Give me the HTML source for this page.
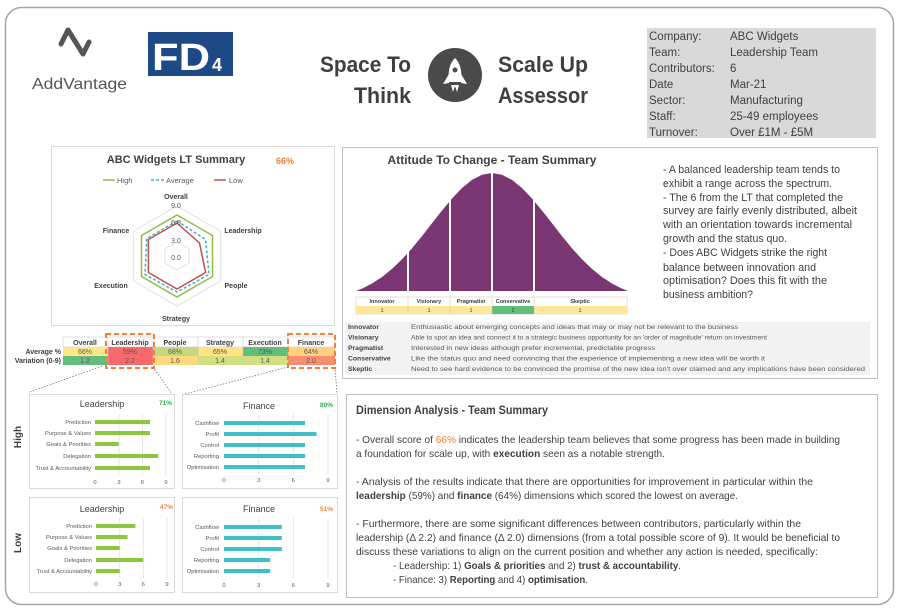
<!DOCTYPE html>
<html><head><meta charset="utf-8"><style>
html,body{margin:0;padding:0;background:#fff;}
svg{display:block;font-family:"Liberation Sans",sans-serif;}
</style></head><body>
<svg width="900" height="608" viewBox="0 0 900 608" xmlns="http://www.w3.org/2000/svg">
<rect x="5.5" y="7.5" width="888" height="597" rx="16" fill="#fff" stroke="#a6a6a6" stroke-width="1.5"/>

<!-- AddVantage logo -->
<path d="M61 44 L68 30 L83 54 L89 42" fill="none" stroke="#555" stroke-width="5" stroke-linejoin="round" stroke-linecap="round"/>
<text x="32" y="89" font-size="16" fill="#555" textLength="95" lengthAdjust="spacingAndGlyphs">AddVantage</text>
<!-- FD4 -->
<rect x="148" y="32" width="85" height="44" fill="#1d4a86"/>
<text x="152" y="70" font-size="38" font-weight="bold" fill="#fff" textLength="58" lengthAdjust="spacingAndGlyphs">FD</text>
<text x="212" y="71" font-size="18" font-weight="bold" fill="#fff">4</text>

<!-- Title -->
<g font-size="22" font-weight="bold" fill="#3f3f3f">
<text x="411" y="72" text-anchor="end" textLength="91" lengthAdjust="spacingAndGlyphs">Space To</text>
<text x="411" y="103" text-anchor="end" textLength="57" lengthAdjust="spacingAndGlyphs">Think</text>
<text x="498" y="72" textLength="90" lengthAdjust="spacingAndGlyphs">Scale Up</text>
<text x="498" y="103" textLength="90" lengthAdjust="spacingAndGlyphs">Assessor</text>
</g>
<circle cx="455" cy="75" r="27" fill="#4a4a4a"/>
<path d="M455 58 C461 64 462 72 461 82 L449 82 C448 72 449 64 455 58 Z" fill="#fff"/>
<circle cx="455" cy="70" r="2.5" fill="#4a4a4a"/>
<path d="M449 74 L443 84 L449 83 Z M461 74 L467 84 L461 83 Z" fill="#fff"/>
<path d="M451 85 L453 92 L455 86 L457 92 L459 85 Z" fill="#fff"/>

<!-- Info box -->
<rect x="647" y="28" width="229" height="110" fill="#d9d9d9"/>
<g font-size="11.5" fill="#404040">
<text x="649" y="40">Company:</text><text x="730" y="40">ABC Widgets</text>
<text x="649" y="56">Team:</text><text x="730" y="56">Leadership Team</text>
<text x="649" y="72">Contributors:</text><text x="730" y="72">6</text>
<text x="649" y="88">Date</text><text x="730" y="88">Mar-21</text>
<text x="649" y="104">Sector:</text><text x="730" y="104">Manufacturing</text>
<text x="649" y="120">Staff:</text><text x="730" y="120">25-49 employees</text>
<text x="649" y="136">Turnover:</text><text x="730" y="136">Over £1M - £5M</text>
</g>

<!-- Radar panel -->
<rect x="51.5" y="146.5" width="283" height="179" fill="#fff" stroke="#d9d9d9"/>
<text x="176" y="163" font-size="11" font-weight="bold" fill="#404040" text-anchor="middle">ABC Widgets LT Summary</text>
<text x="276" y="164" font-size="9" font-weight="bold" fill="#f4813b">66%</text>
<g font-size="7.5" fill="#595959">
<line x1="103" y1="180" x2="115" y2="180" stroke="#8fbc45" stroke-width="1.5"/><text x="117" y="183">High</text>
<line x1="151" y1="180" x2="164" y2="180" stroke="#4bacc6" stroke-width="1.5" stroke-dasharray="3,2"/><text x="166" y="183">Average</text>
<line x1="214" y1="180" x2="226" y2="180" stroke="#c0504d" stroke-width="1.5"/><text x="229" y="183">Low</text>
</g>
<g transform="translate(177,256)">
<polygon points="0,-50 43.3,-25 43.3,25 0,50 -43.3,25 -43.3,-25" fill="none" stroke="#e0e0e0"/>
<polygon points="0,-14 12.1,-7 12.1,7 0,14 -12.1,7 -12.1,-7" fill="none" stroke="#e0e0e0"/>
<polygon points="0,-41 35.5,-20.5 35.5,20.5 0,41 -35.5,20.5 -35.5,-20.5" fill="none" stroke="#8fbc45" stroke-width="1.5"/>
<polygon points="0,-35 28.6,-16.5 32,18.5 0,36 -32,18.5 -30.3,-17.5" fill="none" stroke="#4bacc6" stroke-width="1.5" stroke-dasharray="3,2"/>
<polygon points="0,-33 22.5,-13 28.6,16.5 0,33 -28.6,16.5 -28.6,-16.5" fill="none" stroke="#c0504d" stroke-width="1.5"/>
</g>
<g font-size="7" fill="#595959" text-anchor="middle">
<text x="176" y="208">9.0</text><text x="176" y="225">6.0</text><text x="176" y="243">3.0</text><text x="176" y="260">0.0</text>
</g>
<g font-size="7" font-weight="bold" fill="#404040" text-anchor="middle">
<text x="176" y="199">Overall</text><text x="243" y="233">Leadership</text><text x="236" y="288">People</text>
<text x="176" y="321">Strategy</text><text x="111" y="288">Execution</text><text x="116" y="233">Finance</text>
</g>

<!-- Score table -->
<g font-size="7" text-anchor="middle">
<rect x="63" y="337" width="272" height="10" fill="#fff" stroke="#bfbfbf" stroke-width="0.5"/>
<rect x="63" y="347" width="45" height="9" fill="#ffe588"/><rect x="63" y="356" width="45" height="9" fill="#63be7b"/>
<rect x="108" y="347" width="45" height="9" fill="#f8696b"/><rect x="108" y="356" width="45" height="9" fill="#f8696b"/>
<rect x="153" y="347" width="45" height="9" fill="#c5db7b"/><rect x="153" y="356" width="45" height="9" fill="#ffd880"/>
<rect x="198" y="347" width="45" height="9" fill="#ffe384"/><rect x="198" y="356" width="45" height="9" fill="#d3e082"/>
<rect x="243" y="347" width="45" height="9" fill="#63be7b"/><rect x="243" y="356" width="45" height="9" fill="#d3e082"/>
<rect x="288" y="347" width="47" height="9" fill="#fdd27f"/><rect x="288" y="356" width="47" height="9" fill="#fa8e72"/>
<g stroke="#bfbfbf" stroke-width="0.5"><line x1="108" y1="337" x2="108" y2="365"/><line x1="153" y1="337" x2="153" y2="365"/><line x1="198" y1="337" x2="198" y2="365"/><line x1="243" y1="337" x2="243" y2="365"/><line x1="288" y1="337" x2="288" y2="365"/></g>
<g font-weight="bold" fill="#404040">
<text x="85" y="345">Overall</text><text x="130" y="345">Leadership</text><text x="175" y="345">People</text><text x="220" y="345">Strategy</text><text x="265" y="345">Execution</text><text x="311" y="345">Finance</text>
</g>
<g fill="#595959">
<text x="85" y="354">66%</text><text x="130" y="354">59%</text><text x="175" y="354">68%</text><text x="220" y="354">65%</text><text x="265" y="354">73%</text><text x="311" y="354">64%</text>
<text x="85" y="363">1.2</text><text x="130" y="363">2.2</text><text x="175" y="363">1.6</text><text x="220" y="363">1.4</text><text x="265" y="363">1.4</text><text x="311" y="363">2.0</text>
</g>
<g font-weight="bold" fill="#404040" text-anchor="end"><text x="61" y="354">Average %</text><text x="61" y="363">Variation (0-9)</text></g>
</g>
<rect x="106" y="334" width="48" height="34" fill="none" stroke="#f4813b" stroke-width="2" stroke-dasharray="5,3"/>
<rect x="288" y="334" width="47" height="34" fill="none" stroke="#f4813b" stroke-width="2" stroke-dasharray="5,3"/>
<g stroke="#777" stroke-width="0.8" stroke-dasharray="1.5,1.5">
<line x1="102" y1="366" x2="30" y2="392"/><line x1="153" y1="367" x2="172" y2="394"/>
<line x1="288" y1="367" x2="185" y2="394"/><line x1="335" y1="367" x2="337" y2="394"/>
</g>
<text transform="translate(21,437) rotate(-90)" font-size="10" font-weight="bold" fill="#404040" text-anchor="middle">High</text>
<text transform="translate(21,543) rotate(-90)" font-size="10" font-weight="bold" fill="#404040" text-anchor="middle">Low</text>

<!-- Bar charts -->
<g font-size="5.8" fill="#595959">
<rect x="29.5" y="394.5" width="145" height="94" fill="#fff" stroke="#d9d9d9"/>
<text x="102" y="407" font-size="9" text-anchor="middle" fill="#404040">Leadership</text>
<text x="159" y="405" font-size="6.5" font-weight="bold" fill="#33b34a">71%</text>
<g stroke="#e6e6e6"><line x1="119" y1="414" x2="119" y2="475"/><line x1="142.5" y1="414" x2="142.5" y2="475"/><line x1="166" y1="414" x2="166" y2="475"/></g>
<g fill="#8dc63f"><rect x="95" y="420" width="55" height="4"/><rect x="95" y="431" width="55" height="4"/><rect x="95" y="442" width="23.7" height="4"/><rect x="95" y="454" width="63" height="4"/><rect x="95" y="466" width="55" height="4"/></g>
<g text-anchor="end"><text x="91" y="424">Prediction</text><text x="91" y="435">Purpose &amp; Values</text><text x="91" y="446">Goals &amp; Priorities</text><text x="91" y="458">Delegation</text><text x="91" y="470">Trust &amp; Accountability</text></g>
<g text-anchor="middle"><text x="95" y="484">0</text><text x="119" y="484">3</text><text x="142.5" y="484">6</text><text x="166" y="484">9</text></g>

<rect x="182.5" y="394.5" width="155" height="94" fill="#fff" stroke="#d9d9d9"/>
<text x="259" y="409" font-size="9" text-anchor="middle" fill="#404040">Finance</text>
<text x="320" y="407" font-size="6.5" font-weight="bold" fill="#33b34a">80%</text>
<g stroke="#e6e6e6"><line x1="258.7" y1="414" x2="258.7" y2="474"/><line x1="293.3" y1="414" x2="293.3" y2="474"/><line x1="328" y1="414" x2="328" y2="474"/></g>
<g fill="#3fbfca"><rect x="224" y="421" width="81" height="4"/><rect x="224" y="432" width="92.5" height="4"/><rect x="224" y="443" width="81" height="4"/><rect x="224" y="454" width="81" height="4"/><rect x="224" y="465" width="81" height="4"/></g>
<g text-anchor="end"><text x="219" y="425">Cashflow</text><text x="219" y="436">Profit</text><text x="219" y="447">Control</text><text x="219" y="458">Reporting</text><text x="219" y="469">Optimisation</text></g>
<g text-anchor="middle"><text x="224" y="482">0</text><text x="258.7" y="482">3</text><text x="293.3" y="482">6</text><text x="328" y="482">9</text></g>

<rect x="29.5" y="497.5" width="145" height="95" fill="#fff" stroke="#d9d9d9"/>
<text x="102" y="512" font-size="9" text-anchor="middle" fill="#404040">Leadership</text>
<text x="160" y="509" font-size="6.5" font-weight="bold" fill="#f4813b">47%</text>
<g stroke="#e6e6e6"><line x1="119.7" y1="518" x2="119.7" y2="578"/><line x1="143.3" y1="518" x2="143.3" y2="578"/><line x1="167" y1="518" x2="167" y2="578"/></g>
<g fill="#8dc63f"><rect x="96" y="524" width="39.4" height="4"/><rect x="96" y="535" width="31.5" height="4"/><rect x="96" y="546" width="23.7" height="4"/><rect x="96" y="558" width="47.3" height="4"/><rect x="96" y="569" width="23.7" height="4"/></g>
<g text-anchor="end"><text x="92" y="528">Prediction</text><text x="92" y="539">Purpose &amp; Values</text><text x="92" y="550">Goals &amp; Priorities</text><text x="92" y="562">Delegation</text><text x="92" y="573">Trust &amp; Accountability</text></g>
<g text-anchor="middle"><text x="96" y="586">0</text><text x="119.7" y="586">3</text><text x="143.3" y="586">6</text><text x="167" y="586">9</text></g>

<rect x="182.5" y="497.5" width="155" height="95" fill="#fff" stroke="#d9d9d9"/>
<text x="259" y="512" font-size="9" text-anchor="middle" fill="#404040">Finance</text>
<text x="320" y="511" font-size="6.5" font-weight="bold" fill="#f4813b">51%</text>
<g stroke="#e6e6e6"><line x1="258.7" y1="518" x2="258.7" y2="578"/><line x1="293.3" y1="518" x2="293.3" y2="578"/><line x1="328" y1="518" x2="328" y2="578"/></g>
<g fill="#3fbfca"><rect x="224" y="525" width="57.8" height="4"/><rect x="224" y="536" width="57.8" height="4"/><rect x="224" y="547" width="57.8" height="4"/><rect x="224" y="558" width="46.2" height="4"/><rect x="224" y="569" width="46.2" height="4"/></g>
<g text-anchor="end"><text x="219" y="529">Cashflow</text><text x="219" y="540">Profit</text><text x="219" y="551">Control</text><text x="219" y="562">Reporting</text><text x="219" y="573">Optimisation</text></g>
<g text-anchor="middle"><text x="224" y="587">0</text><text x="258.7" y="587">3</text><text x="293.3" y="587">6</text><text x="328" y="587">9</text></g>
</g>

<!-- Attitude panel -->
<rect x="342.5" y="147.5" width="535" height="231" fill="#fff" stroke="#bfbfbf"/>
<text x="492" y="164" font-size="12" font-weight="bold" fill="#404040" text-anchor="middle">Attitude To Change - Team Summary</text>
<path fill="#7a3673" d="M356 291 L362 288.6 L372 283.5 L382 277 L392 268.9 L402 259.3 L412 248.3 L422 236.1 L432 223.3 L442 210.5 L452 198.5 L462 188 L472 179.9 L482 174.7 L492 173 L502 174.7 L512 179.9 L522 188 L532 198.5 L542 210.5 L552 223.3 L562 236.1 L572 248.3 L582 259.3 L592 268.9 L602 277 L612 283.5 L622 288.6 L628 291 Z"/>
<g stroke="#fff" stroke-width="2"><line x1="408" y1="170" x2="408" y2="292"/><line x1="450" y1="170" x2="450" y2="292"/><line x1="492" y1="170" x2="492" y2="292"/><line x1="534" y1="170" x2="534" y2="292"/></g>
<g font-size="5.5" text-anchor="middle">
<rect x="356" y="297" width="271" height="17" fill="#fff" stroke="#bfbfbf" stroke-width="0.5"/>
<rect x="356" y="306" width="271" height="8" fill="#ffe699"/>
<rect x="492" y="306" width="42" height="8" fill="#63be7b"/>
<g stroke="#bfbfbf" stroke-width="0.5"><line x1="408" y1="297" x2="408" y2="314"/><line x1="450" y1="297" x2="450" y2="314"/><line x1="492" y1="297" x2="492" y2="314"/><line x1="534" y1="297" x2="534" y2="314"/></g>
<g font-weight="bold" fill="#404040"><text x="382" y="303">Innovator</text><text x="429" y="303">Visionary</text><text x="471" y="303">Pragmatist</text><text x="513" y="303">Conservative</text><text x="580" y="303">Skeptic</text></g>
<g fill="#404040"><text x="382" y="312">1</text><text x="429" y="312">1</text><text x="471" y="312">1</text><text x="513" y="312">2</text><text x="580" y="312">1</text></g>
</g>
<rect x="345" y="322" width="525" height="53" fill="#f2f2f2"/>
<g font-size="6.3" fill="#595959">
<g font-weight="bold" font-size="6.8" fill="#404040"><text x="348" y="329">Innovator</text><text x="348" y="339.5">Visionary</text><text x="348" y="350">Pragmatist</text><text x="348" y="360.5">Conservative</text><text x="348" y="371">Skeptic</text></g>
<text x="411" y="329" textLength="327" lengthAdjust="spacingAndGlyphs">Enthusiastic about emerging concepts and ideas that may or may not be relevant to the business</text>
<text x="411" y="339.5" textLength="356" lengthAdjust="spacingAndGlyphs">Able to spot an idea and connect it to a strategic business opportunity for an 'order of magnitude' return on investment</text>
<text x="411" y="350" textLength="244" lengthAdjust="spacingAndGlyphs">Interested in new ideas although prefer incremental, predictable progress</text>
<text x="411" y="360.5" textLength="354" lengthAdjust="spacingAndGlyphs">Like the status quo and need convincing that the experience of implementing a new idea will be worth it</text>
<text x="411" y="371" textLength="454" lengthAdjust="spacingAndGlyphs">Need to see hard evidence to be convinced the promise of the new idea isn't over claimed and any implications have been considered</text>
</g>
<g font-size="11" fill="#404040">
<text x="663" y="173" textLength="177" lengthAdjust="spacingAndGlyphs">- A balanced leadership team tends to</text>
<text x="663" y="187" textLength="169" lengthAdjust="spacingAndGlyphs">exhibit a range across the spectrum.</text>
<text x="663" y="201" textLength="180" lengthAdjust="spacingAndGlyphs">- The 6 from the LT that completed the</text>
<text x="663" y="214" textLength="194" lengthAdjust="spacingAndGlyphs">survey are fairly evenly distributed, albeit</text>
<text x="663" y="228" textLength="189" lengthAdjust="spacingAndGlyphs">with an orientation towards incremental</text>
<text x="663" y="242" textLength="124" lengthAdjust="spacingAndGlyphs">growth and the status quo.</text>
<text x="663" y="256" textLength="164" lengthAdjust="spacingAndGlyphs">- Does ABC Widgets strike the right</text>
<text x="663" y="271" textLength="153" lengthAdjust="spacingAndGlyphs">balance between innovation and</text>
<text x="663" y="284" textLength="164" lengthAdjust="spacingAndGlyphs">optimisation? Does this fit with the</text>
<text x="663" y="298" textLength="90" lengthAdjust="spacingAndGlyphs">business ambition?</text>
</g>

<!-- Dimension panel -->
<rect x="346.5" y="394.5" width="531" height="203" fill="#fff" stroke="#bfbfbf"/>
<text x="356" y="414" font-size="12" font-weight="bold" fill="#404040" textLength="192" lengthAdjust="spacingAndGlyphs">Dimension Analysis - Team Summary</text>
<g font-size="10.5" fill="#404040">
<text x="356" y="443" textLength="484" lengthAdjust="spacingAndGlyphs">- Overall score of <tspan fill="#f4813b">66%</tspan> indicates the leadership team believes that some progress has been made in building</text>
<text x="356" y="457" textLength="309" lengthAdjust="spacingAndGlyphs">a foundation for scale up, with <tspan font-weight="bold">execution</tspan> seen as a notable strength.</text>
<text x="356" y="485" textLength="457" lengthAdjust="spacingAndGlyphs">- Analysis of the results indicate that there are opportunities for improvement in particular within the</text>
<text x="356" y="499" textLength="382" lengthAdjust="spacingAndGlyphs"><tspan font-weight="bold">leadership</tspan> (59%) and <tspan font-weight="bold">finance</tspan> (64%) dimensions which scored the lowest on average.</text>
<text x="356" y="527" textLength="445" lengthAdjust="spacingAndGlyphs">- Furthermore, there are some significant differences between contributors, particularly within the</text>
<text x="356" y="541" textLength="484" lengthAdjust="spacingAndGlyphs">leadership (Δ 2.2) and finance (Δ 2.0) dimensions (from a total possible score of 9). It would be beneficial to</text>
<text x="356" y="555" textLength="462" lengthAdjust="spacingAndGlyphs">discuss these variations to align on the current position and whether any action is needed, specifically:</text>
<text x="393" y="569" textLength="288" lengthAdjust="spacingAndGlyphs">- Leadership: 1) <tspan font-weight="bold">Goals &amp; priorities</tspan> and 2) <tspan font-weight="bold">trust &amp; accountability</tspan>.</text>
<text x="393" y="583" textLength="195" lengthAdjust="spacingAndGlyphs">- Finance: 3) <tspan font-weight="bold">Reporting</tspan> and 4) <tspan font-weight="bold">optimisation</tspan>.</text>
</g>
</svg>
</body></html>
